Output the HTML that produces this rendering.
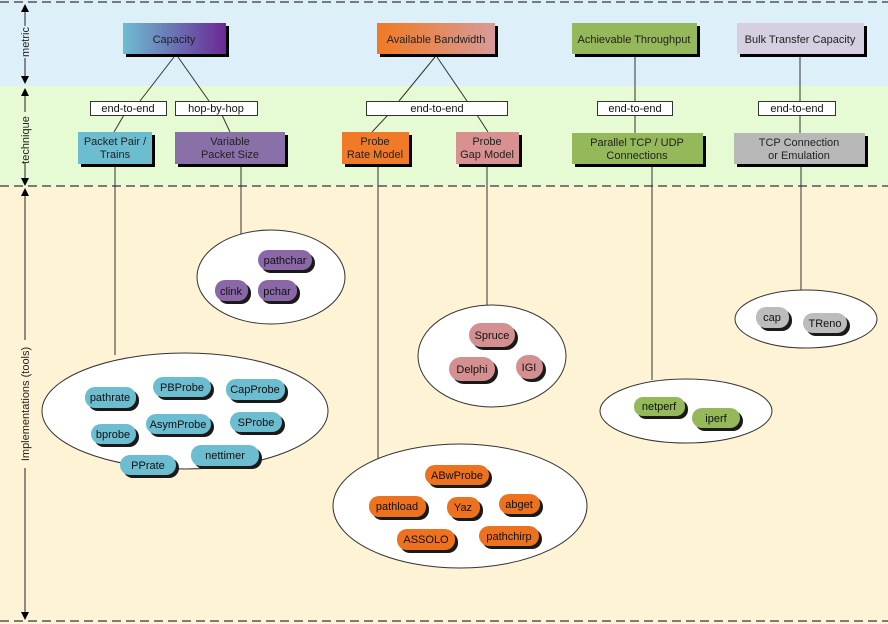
<!DOCTYPE html>
<html><head><meta charset="utf-8"><style>body{margin:0}svg{display:block;font-family:"Liberation Sans",sans-serif}</style></head><body>
<svg width="888" height="624" viewBox="0 0 888 624" xmlns="http://www.w3.org/2000/svg">
<defs>
<linearGradient id="gc" x1="0" x2="1"><stop offset="0" stop-color="#6cbdd0"/><stop offset="1" stop-color="#6a2896"/></linearGradient>
<linearGradient id="ga" x1="0" x2="1"><stop offset="0" stop-color="#f07a22"/><stop offset="1" stop-color="#d89a98"/></linearGradient>
</defs>
<rect x="0" y="0" width="888" height="86" fill="#ddf0fa"/>
<rect x="0" y="86" width="888" height="100" fill="#e6fad4"/>
<rect x="0" y="186" width="888" height="438" fill="#fff3d6"/>
<g stroke="#555" stroke-width="1.5" stroke-dasharray="9,5">
<line x1="0" y1="2" x2="888" y2="2"/><line x1="0" y1="186" x2="888" y2="186"/><line x1="0" y1="621" x2="888" y2="621"/></g>
<g stroke="#222" stroke-width="1" fill="#000">
<line x1="25" y1="6" x2="25" y2="26"/><line x1="25" y1="58" x2="25" y2="82"/>
<line x1="25" y1="92" x2="25" y2="112"/><line x1="25" y1="162" x2="25" y2="182"/>
<line x1="25" y1="192" x2="25" y2="340"/><line x1="25" y1="468" x2="25" y2="616"/>
<path d="M21,12 L25,4 L29,12Z M21,76 L25,84 L29,76Z M21,96 L25,88 L29,96Z M21,178 L25,186 L29,178Z M21,196 L25,188 L29,196Z M21,612 L25,620 L29,612Z" stroke="none"/>
</g>
<g font-size="11" fill="#222" text-anchor="middle">
<text transform="translate(29,42) rotate(-90)">metric</text>
<text transform="translate(29,140) rotate(-90)">technique</text>
<text transform="translate(29,404) rotate(-90)">Implementations (tools)</text>
</g>
<g stroke="#333" stroke-width="1" fill="none">
<line x1="174" y1="57" x2="140" y2="101"/><line x1="178" y1="57" x2="209" y2="101"/>
<line x1="124" y1="115" x2="114" y2="132"/><line x1="222" y1="115" x2="230" y2="132"/>
<line x1="115" y1="164" x2="115" y2="355"/><line x1="241" y1="164" x2="241" y2="237"/>
<line x1="435" y1="57" x2="399" y2="101"/><line x1="437" y1="57" x2="467" y2="101"/>
<line x1="388" y1="115" x2="372" y2="132"/><line x1="477" y1="115" x2="488" y2="132"/>
<line x1="378" y1="164" x2="378" y2="462"/><line x1="487" y1="164" x2="487" y2="306"/>
<line x1="635" y1="57" x2="635" y2="133"/><line x1="652" y1="164" x2="652" y2="380"/>
<line x1="800" y1="57" x2="800" y2="133"/><line x1="801" y1="164" x2="801" y2="291"/>
</g>
<g>
<rect x="126" y="26" width="103" height="31" fill="#000"/><rect x="123" y="23" width="103" height="31" fill="url(#gc)"/>
<rect x="380" y="26" width="118" height="31" fill="#000"/><rect x="377" y="23" width="118" height="31" fill="url(#ga)"/>
<rect x="575" y="26" width="125" height="31" fill="#000"/><rect x="572" y="23" width="125" height="31" fill="#94b85a"/>
<rect x="740" y="26" width="127" height="31" fill="#000"/><rect x="737" y="23" width="127" height="31" fill="#d6cfe2"/>
</g>
<g font-size="11" fill="#222" text-anchor="middle">
<text x="174" y="43">Capacity</text><text x="436" y="43">Available Bandwidth</text>
<text x="634" y="43">Achievable Throughput</text><text x="800" y="43">Bulk Transfer Capacity</text>
</g>
<g fill="#fff" stroke="#333" stroke-width="1">
<rect x="90.5" y="101.5" width="76" height="14"/><rect x="175.5" y="101.5" width="82" height="14"/>
<rect x="366.5" y="101.5" width="141" height="14"/><rect x="597.5" y="101.5" width="75" height="14"/><rect x="758.5" y="101.5" width="77" height="14"/>
</g>
<g font-size="11" fill="#111" text-anchor="middle">
<text x="128" y="112">end-to-end</text><text x="216" y="112">hop-by-hop</text>
<text x="437" y="112">end-to-end</text><text x="635" y="112">end-to-end</text><text x="797" y="112">end-to-end</text>
</g>
<g>
<rect x="81" y="135" width="74" height="32" fill="#000"/><rect x="78" y="132" width="74" height="32" fill="#6cbdd0"/>
<rect x="178" y="135" width="110" height="32" fill="#000"/><rect x="175" y="132" width="110" height="32" fill="#8a70a8"/>
<rect x="345" y="135" width="67" height="32" fill="#000"/><rect x="342" y="132" width="67" height="32" fill="#f07a28"/>
<rect x="459" y="135" width="63" height="32" fill="#000"/><rect x="456" y="132" width="63" height="32" fill="#d89090"/>
<rect x="575" y="136" width="131" height="31" fill="#000"/><rect x="572" y="133" width="131" height="31" fill="#94b85a"/>
<rect x="737" y="136" width="131" height="31" fill="#000"/><rect x="734" y="133" width="131" height="31" fill="#b8b8b8"/>
</g>
<g font-size="11" fill="#222" text-anchor="middle">
<text x="115" y="145">Packet Pair /</text><text x="115" y="158">Trains</text>
<text x="230" y="145">Variable</text><text x="230" y="158">Packet Size</text>
<text x="375" y="145">Probe</text><text x="375" y="158">Rate Model</text>
<text x="487" y="145">Probe</text><text x="487" y="158">Gap Model</text>
<text x="637" y="146">Parallel TCP / UDP</text><text x="637" y="159">Connections</text>
<text x="799" y="146">TCP Connection</text><text x="799" y="159">or Emulation</text>
</g>
<g fill="#fff" stroke="#333" stroke-width="1">
<ellipse cx="271" cy="277" rx="74" ry="47"/><ellipse cx="185" cy="411" rx="143" ry="58"/>
<ellipse cx="492" cy="356" rx="74" ry="51"/><ellipse cx="460" cy="506" rx="127" ry="62"/>
<ellipse cx="686" cy="411" rx="86" ry="32"/><ellipse cx="806" cy="319" rx="71" ry="29"/>
</g>
<g fill="#1a1a1a">
<rect x="261" y="253" width="54" height="20" rx="10"/><rect x="218" y="283" width="33" height="21" rx="10"/><rect x="261" y="283" width="39" height="21" rx="10"/>
<rect x="88" y="390" width="51" height="21" rx="10"/><rect x="156" y="380" width="58" height="20" rx="10"/><rect x="229" y="382" width="59" height="21" rx="10"/>
<rect x="94" y="427" width="45" height="20" rx="10"/><rect x="149" y="417" width="65" height="20" rx="10"/><rect x="233" y="415" width="52" height="20" rx="10"/>
<rect x="123" y="458" width="56" height="20" rx="10"/><rect x="194" y="448" width="68" height="21" rx="10"/>
<rect x="472" y="326" width="46" height="24" rx="12"/><rect x="452" y="360" width="46" height="24" rx="12"/><rect x="519" y="358" width="27" height="24" rx="12"/>
<rect x="637" y="400" width="51" height="19" rx="9"/><rect x="695" y="411" width="48" height="20" rx="10"/>
<rect x="759" y="310" width="33" height="21" rx="10"/><rect x="806" y="316" width="44" height="20" rx="10"/>
<rect x="428" y="468" width="64" height="20" rx="10"/><rect x="372" y="499" width="57" height="21" rx="10"/><rect x="450" y="500" width="33" height="21" rx="10"/><rect x="502" y="497" width="41" height="20" rx="10"/>
<rect x="400" y="532" width="58" height="21" rx="10"/><rect x="482" y="529" width="60" height="20" rx="10"/>
</g>
<g fill="#8a68a8"><rect x="258" y="250" width="54" height="20" rx="10"/><rect x="215" y="280" width="33" height="21" rx="10"/><rect x="258" y="280" width="39" height="21" rx="10"/></g>
<g fill="#6cbdd0"><rect x="85" y="387" width="51" height="21" rx="10"/><rect x="153" y="377" width="58" height="20" rx="10"/><rect x="226" y="379" width="59" height="21" rx="10"/>
<rect x="91" y="424" width="45" height="20" rx="10"/><rect x="146" y="414" width="65" height="20" rx="10"/><rect x="230" y="412" width="52" height="20" rx="10"/>
<rect x="120" y="455" width="56" height="20" rx="10"/><rect x="191" y="445" width="68" height="21" rx="10"/></g>
<g fill="#d49090"><rect x="469" y="323" width="46" height="24" rx="12"/><rect x="449" y="357" width="46" height="24" rx="12"/><rect x="516" y="355" width="27" height="24" rx="12"/></g>
<g fill="#94b85a"><rect x="634" y="397" width="51" height="19" rx="9"/><rect x="692" y="408" width="48" height="20" rx="10"/></g>
<g fill="#bcbcbc"><rect x="756" y="307" width="33" height="21" rx="10"/><rect x="803" y="313" width="44" height="20" rx="10"/></g>
<g fill="#ec7220"><rect x="425" y="465" width="64" height="20" rx="10"/><rect x="369" y="496" width="57" height="21" rx="10"/><rect x="447" y="497" width="33" height="21" rx="10"/><rect x="499" y="494" width="41" height="20" rx="10"/>
<rect x="397" y="529" width="58" height="21" rx="10"/><rect x="479" y="526" width="60" height="20" rx="10"/></g>
<g font-size="11" fill="#111" text-anchor="middle">
<text x="285" y="264">pathchar</text><text x="231" y="295">clink</text><text x="277" y="295">pchar</text>
<text x="110" y="401">pathrate</text><text x="182" y="391">PBProbe</text><text x="255" y="393">CapProbe</text>
<text x="113" y="438">bprobe</text><text x="178" y="428">AsymProbe</text><text x="256" y="426">SProbe</text>
<text x="148" y="469">PPrate</text><text x="225" y="459">nettimer</text>
<text x="492" y="339">Spruce</text><text x="472" y="373">Delphi</text><text x="529" y="371">IGI</text>
<text x="659" y="410">netperf</text><text x="716" y="422">iperf</text>
<text x="772" y="321">cap</text><text x="825" y="327">TReno</text>
<text x="457" y="479">ABwProbe</text><text x="397" y="510">pathload</text><text x="463" y="511">Yaz</text><text x="519" y="508">abget</text>
<text x="426" y="543">ASSOLO</text><text x="509" y="540">pathchirp</text>
</g>
</svg>
</body></html>
